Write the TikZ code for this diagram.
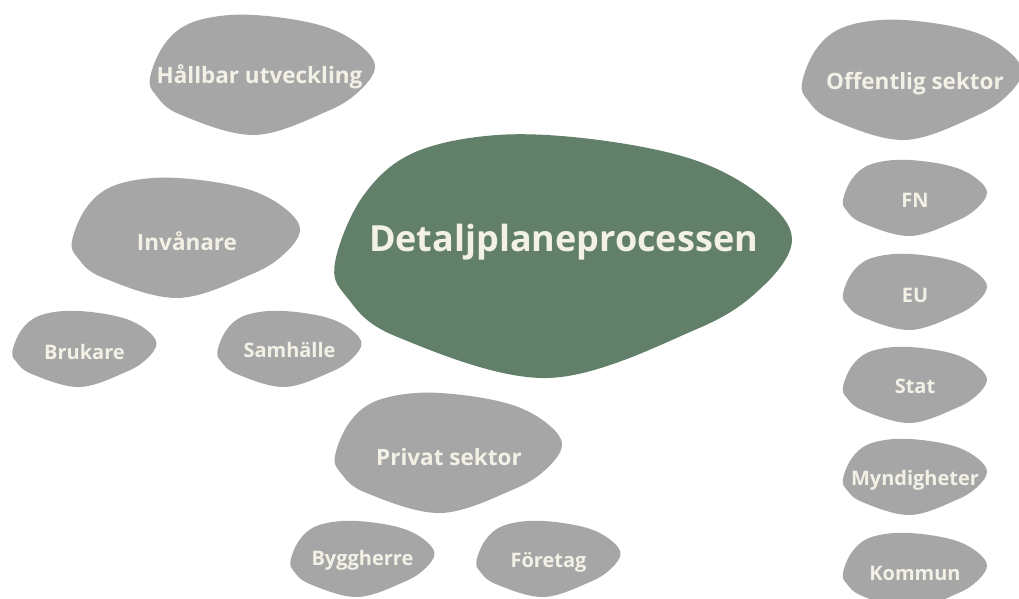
\documentclass[tikz,border=0pt]{standalone}
\usepackage{fontspec}
\setmainfont{Open Sans}
\definecolor{blobgrey}{HTML}{A6A6A6}
\definecolor{blobgreen}{HTML}{628069}
\definecolor{blobtext}{HTML}{F3F1E6}
\tikzset{
  blobtxt/.style={text=blobtext, font=\bfseries\fontsize{#1}{#1}\selectfont, inner sep=0pt, anchor=center},
}
% name, cx, cy, rx, ry, fill, fontsize, text, text x, text y
\newcommand\myblob[9]{%
  \fill[#6, shift={(#2,#3)}, xscale=#4, yscale=#5]
    plot[smooth cycle, tension=0.6] coordinates {(-1,0.05) (-0.88,-0.49) (-0.66,-0.85) (-0.29,-1) (0.15,-0.96) (0.58,-0.79) (0.87,-0.49) (1,-0.14) (0.87,0.25) (0.58,0.60) (-0.07,1) (-0.73,0.66) (-0.95,0.33)};
  \node[blobtxt=#7] (#1) at (#9) {#8};
}
\begin{document}
\begin{tikzpicture}[x=1pt,y=-1pt]
\useasboundingbox (0,0) rectangle (1019,599);
\clip (0,0) rectangle (1019,599);
\fill[white] (0,0) rectangle (1019,599);
\myblob{main}{563.5}{256.5}{228.5}{121.5}{blobgreen}{36}{Detaljplaneprocessen}{563.5,242}
\myblob{hallbar}{262.5}{75}{112.5}{60}{blobgrey}{22.5}{Hållbar utveckling}{259.5,77}
\myblob{invanare}{186}{238}{114}{60}{blobgrey}{22.5}{Invånare}{187,241}
\myblob{offentlig}{912}{80}{110}{60}{blobgrey}{22.5}{Offentlig sektor}{915,84}
\myblob{privat}{448.5}{453}{113.5}{60}{blobgrey}{22.5}{Privat sektor}{449,457}
\myblob{fn}{915}{198}{72}{38}{blobgrey}{20}{FN}{915,200}
\myblob{eu}{915}{292}{72}{38}{blobgrey}{20}{EU}{915,295}
\myblob{stat}{915}{385}{72}{38}{blobgrey}{20}{Stat}{915,386}
\myblob{myndigheter}{915}{477}{72}{38}{blobgrey}{20}{Myndigheter}{915,480}
\myblob{kommun}{915}{571}{72}{38}{blobgrey}{20}{Kommun}{915,573}
\myblob{brukare}{84.5}{349}{72}{38}{blobgrey}{20}{Brukare}{84.5,352}
\myblob{samhalle}{289.5}{349}{72}{38}{blobgrey}{20}{Samhälle}{289.5,350}
\myblob{byggherre}{362.5}{559}{72}{38}{blobgrey}{20}{Byggherre}{362.5,560}
\myblob{foretag}{548.5}{559}{72}{38}{blobgrey}{20}{Företag}{548.5,562}
\end{tikzpicture}
\end{document}
